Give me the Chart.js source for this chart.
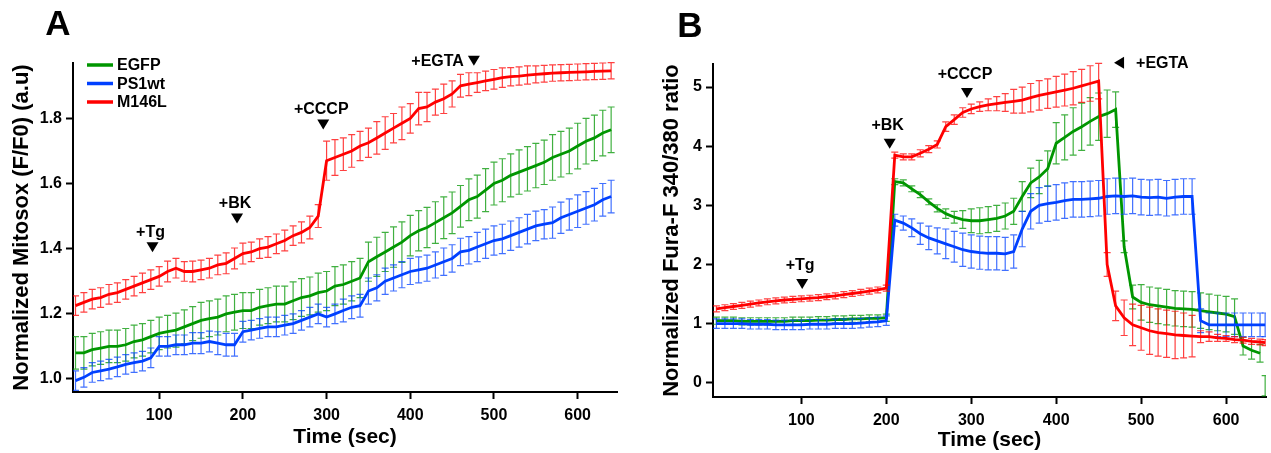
<!DOCTYPE html>
<html>
<head>
<meta charset="utf-8">
<script src="https://cdn.jsdelivr.net/npm/chart.js@4.4.1/dist/chart.umd.min.js"></script>
<style>
  body { margin: 0; background: #fff; }
  #wrap { position: relative; width: 1271px; height: 453px; }
  .panel { position: absolute; top: 0; height: 453px; }
  #panelA { left: 0; width: 640px; }
  #panelB { left: 640px; width: 631px; }
</style>
</head>
<body>
<div id="wrap">
  <div class="panel" id="panelA"><canvas id="chartA" width="640" height="453"></canvas></div>
  <div class="panel" id="panelB"><canvas id="chartB" width="631" height="453"></canvas></div>
</div>
<script>
// ---- data (time in sec) ----
const seriesNames = ['EGFP', 'PS1wt', 'M146L'];

const timeA = [0,10,20,30,40,50,60,70,80,90,100,110,120,130,140,150,160,170,180,190,
  200,210,220,230,240,250,260,270,280,290,300,310,320,330,340,350,360,370,380,390,
  400,410,420,430,440,450,460,470,480,490,500,510,520,530,540,550,560,570,580,590,
  600,610,620,630,640];

// panel A: Mitosox F/F0
const mitoGreen = [1.08,1.08,1.09,1.095,1.10,1.10,1.105,1.115,1.12,1.13,
  1.14,1.145,1.15,1.16,1.17,1.18,1.185,1.19,1.20,1.205,
  1.21,1.21,1.22,1.225,1.23,1.23,1.24,1.25,1.255,1.265,
  1.27,1.285,1.29,1.30,1.31,1.36,1.375,1.39,1.405,1.42,
  1.44,1.455,1.465,1.48,1.495,1.51,1.53,1.55,1.56,1.58,
  1.60,1.61,1.625,1.635,1.645,1.655,1.665,1.68,1.69,1.70,
  1.715,1.73,1.74,1.755,1.765];
const mitoGreenErr = [0.05,0.05,0.05,0.05,0.05,0.05,0.05,0.05,0.05,0.05,
  0.05,0.05,0.052,0.052,0.052,0.055,0.055,0.055,0.055,0.055,
  0.055,0.055,0.055,0.055,0.055,0.055,0.058,0.058,0.058,0.06,
  0.06,0.06,0.06,0.06,0.06,0.06,0.06,0.06,0.062,0.062,
  0.062,0.062,0.062,0.064,0.064,0.064,0.064,0.064,0.066,0.066,
  0.066,0.066,0.066,0.068,0.068,0.068,0.068,0.07,0.07,0.07,
  0.07,0.07,0.07,0.07,0.07];
const mitoBlue = [0.995,1.005,1.02,1.025,1.03,1.037,1.045,1.05,1.055,1.065,
  1.10,1.10,1.105,1.105,1.11,1.11,1.115,1.11,1.105,1.105,
  1.145,1.15,1.155,1.16,1.16,1.165,1.17,1.18,1.19,1.20,
  1.19,1.20,1.21,1.22,1.225,1.27,1.28,1.30,1.31,1.32,
  1.33,1.335,1.34,1.35,1.36,1.37,1.39,1.395,1.405,1.415,
  1.425,1.43,1.44,1.45,1.46,1.47,1.475,1.48,1.495,1.505,
  1.515,1.525,1.535,1.55,1.56];
const mitoBlueErr = [0.03,0.03,0.03,0.03,0.03,0.03,0.03,0.03,0.03,0.03,
  0.03,0.03,0.03,0.03,0.032,0.032,0.032,0.035,0.035,0.035,
  0.032,0.03,0.03,0.03,0.03,0.03,0.03,0.03,0.03,0.03,
  0.03,0.03,0.035,0.035,0.035,0.04,0.04,0.04,0.04,0.04,
  0.04,0.04,0.04,0.04,0.042,0.042,0.042,0.042,0.045,0.045,
  0.045,0.045,0.045,0.045,0.045,0.045,0.045,0.048,0.048,0.048,
  0.05,0.05,0.05,0.05,0.05];
const mitoRed = [1.225,1.235,1.245,1.25,1.26,1.265,1.275,1.285,1.295,1.305,
  1.315,1.33,1.34,1.33,1.33,1.335,1.34,1.35,1.355,1.37,
  1.385,1.39,1.40,1.405,1.415,1.425,1.44,1.45,1.465,1.50,
  1.67,1.68,1.69,1.70,1.715,1.725,1.74,1.755,1.77,1.785,
  1.80,1.83,1.835,1.85,1.86,1.875,1.90,1.905,1.91,1.915,
  1.92,1.925,1.928,1.93,1.933,1.935,1.937,1.939,1.94,1.941,
  1.942,1.943,1.944,1.945,1.946];
const mitoRedErr = [0.03,0.03,0.03,0.03,0.03,0.03,0.03,0.03,0.03,0.03,
  0.03,0.032,0.03,0.03,0.032,0.03,0.03,0.03,0.032,0.032,
  0.032,0.03,0.03,0.032,0.03,0.032,0.03,0.032,0.035,0.035,
  0.06,0.055,0.05,0.05,0.045,0.045,0.05,0.05,0.045,0.05,
  0.045,0.05,0.045,0.04,0.045,0.04,0.035,0.035,0.03,0.03,
  0.03,0.03,0.028,0.028,0.028,0.026,0.026,0.025,0.025,0.025,
  0.025,0.025,0.025,0.025,0.025];

// panel B: Fura-F 340/380 ratio
const timeB = [0,10,20,30,40,50,60,70,80,90,100,110,120,130,140,150,160,170,180,190,
  200,210,220,230,240,250,260,270,280,290,300,310,320,330,340,350,360,370,380,390,
  400,410,420,430,440,450,460,470,480,490,500,510,520,530,540,550,560,570,580,590,
  600,610,620,630,640,646];

const furaGreen = [1.05,1.05,1.05,1.04,1.04,1.04,1.04,1.04,1.04,1.05,
  1.05,1.05,1.06,1.06,1.07,1.07,1.08,1.08,1.09,1.09,
  1.10,3.40,3.38,3.28,3.18,3.06,2.95,2.86,2.80,2.76,
  2.74,2.74,2.76,2.78,2.82,2.90,3.15,3.38,3.48,3.62,
  4.05,4.15,4.25,4.33,4.42,4.50,4.55,4.62,2.30,1.45,
  1.36,1.32,1.30,1.28,1.26,1.25,1.24,1.22,1.20,1.18,
  1.16,1.12,0.62,0.55,0.50,-0.05];
const furaGreenErr = [0.06,0.06,0.06,0.06,0.06,0.06,0.06,0.06,0.06,0.06,
  0.06,0.06,0.06,0.06,0.06,0.06,0.06,0.06,0.06,0.06,
  0.06,0.05,0.05,0.05,0.05,0.05,0.06,0.08,0.1,0.15,
  0.2,0.22,0.22,0.22,0.22,0.22,0.25,0.25,0.28,0.3,
  0.35,0.38,0.4,0.4,0.4,0.4,0.4,0.3,0.1,0.2,
  0.3,0.3,0.3,0.3,0.3,0.3,0.3,0.3,0.3,0.3,
  0.3,0.3,0.15,0.15,0.15,0.17];
const furaBlue = [1.00,1.00,1.00,1.00,0.99,0.99,0.99,0.98,0.98,0.98,
  0.98,0.99,0.99,0.99,1.00,1.00,1.00,1.01,1.02,1.03,
  1.05,2.75,2.70,2.62,2.52,2.45,2.40,2.35,2.30,2.25,
  2.22,2.20,2.19,2.19,2.18,2.22,2.60,2.90,3.00,3.03,
  3.05,3.08,3.10,3.10,3.11,3.12,3.15,3.16,3.15,3.16,
  3.14,3.13,3.14,3.12,3.14,3.15,3.15,1.05,0.98,0.98,
  0.98,0.98,0.98,0.98,0.98,0.98];
const furaBlueErr = [0.08,0.08,0.08,0.08,0.08,0.08,0.08,0.08,0.08,0.08,
  0.08,0.08,0.08,0.08,0.08,0.08,0.08,0.08,0.08,0.08,
  0.08,0.1,0.12,0.15,0.18,0.2,0.22,0.25,0.26,0.28,
  0.28,0.28,0.28,0.28,0.28,0.28,0.3,0.3,0.3,0.3,
  0.3,0.3,0.3,0.3,0.3,0.3,0.3,0.3,0.3,0.3,
  0.3,0.3,0.3,0.3,0.3,0.3,0.3,0.2,0.2,0.2,
  0.2,0.2,0.2,0.2,0.2,0.2];
const furaRed = [1.25,1.27,1.29,1.31,1.33,1.35,1.37,1.385,1.40,1.41,
  1.42,1.43,1.44,1.455,1.47,1.49,1.51,1.53,1.55,1.57,
  1.60,3.85,3.82,3.82,3.88,3.95,4.03,4.33,4.45,4.57,
  4.63,4.67,4.70,4.72,4.74,4.76,4.78,4.82,4.86,4.89,
  4.92,4.95,4.98,5.02,5.06,5.10,2.0,1.30,1.10,0.98,
  0.93,0.88,0.85,0.83,0.81,0.80,0.79,0.78,0.78,0.76,
  0.75,0.73,0.72,0.70,0.69,0.68];
const furaRedErr = [0.05,0.05,0.05,0.05,0.05,0.05,0.05,0.05,0.05,0.05,
  0.05,0.05,0.05,0.05,0.05,0.05,0.05,0.05,0.05,0.05,
  0.05,0.05,0.05,0.05,0.06,0.06,0.06,0.08,0.08,0.08,
  0.08,0.08,0.1,0.12,0.15,0.2,0.22,0.24,0.25,0.25,
  0.26,0.27,0.28,0.28,0.3,0.3,0.2,0.25,0.3,0.35,
  0.38,0.4,0.4,0.4,0.4,0.38,0.35,0.1,0.08,0.06,
  0.05,0.05,0.05,0.05,0.05,0.05];

// axis ticks
const xTicks = [100, 200, 300, 400, 500, 600];
const yTicksA = [1.0, 1.2, 1.4, 1.6, 1.8];
const yTicksB = [0, 1, 2, 3, 4, 5];

// treatment marks
const marksA = ['+Tg', '+BK', '+CCCP', '+EGTA'];
const marksATime = [92, 193, 296, 476];
const marksALevel = [1.404, 1.493, 1.781, 1.977];
const marksB = ['+Tg', '+BK', '+CCCP', '+EGTA'];
const marksBTime = [101, 204, 295, 474];
const marksBLevel = [1.67, 4.04, 4.90, 5.41];

const FONT = '"Liberation Sans", Arial, Helvetica, sans-serif';
const lineColors = ['rgb(0,150,0)', 'rgb(0,64,255)', 'rgb(255,0,0)'];
const barColors = ['rgba(0,150,0,0.75)', 'rgba(0,64,255,0.75)', 'rgba(255,0,0,0.75)'];

function points(times, values) {
  return times.map(function(t, i) { return { x: t, y: values[i] }; });
}

// draws the error bars of a dataset just before its line
const errorBars = {
  id: 'errorBars',
  beforeDatasetDraw(chart, args) {
    const ds = chart.data.datasets[args.index];
    const ys = chart.scales.y;
    const area = chart.chartArea;
    const ctx = chart.ctx;
    ctx.save();
    ctx.beginPath();
    ctx.rect(area.left, area.top - 2, area.right - area.left, area.bottom - area.top + 2);
    ctx.clip();
    ctx.strokeStyle = ds.barColor;
    ctx.lineWidth = 1.2;
    args.meta.data.forEach(function(pt, i) {
      const v = ds.data[i].y, e = ds.errors[i];
      const top = ys.getPixelForValue(v + e);
      const bot = ys.getPixelForValue(v - e);
      ctx.beginPath();
      ctx.moveTo(pt.x, top); ctx.lineTo(pt.x, bot);
      ctx.moveTo(pt.x - 3.5, top); ctx.lineTo(pt.x + 3.5, top);
      ctx.moveTo(pt.x - 3.5, bot); ctx.lineTo(pt.x + 3.5, bot);
      ctx.stroke();
    });
    ctx.restore();
  }
};

// panel letter, legend and treatment arrows
const extras = {
  id: 'extras',
  afterDraw(chart, args, opts) {
    const ctx = chart.ctx, xs = chart.scales.x, ys = chart.scales.y;
    const area = chart.chartArea;
    ctx.save();
    ctx.fillStyle = '#000';
    ctx.font = 'bold 35px ' + FONT;
    ctx.textAlign = 'center';
    ctx.textBaseline = 'middle';
    ctx.fillText(opts.letter, opts.letterAt[0], opts.letterAt[1]);

    ctx.font = 'bold 16px ' + FONT;
    opts.labels.forEach(function(label, i) {
      const px = xs.getPixelForValue(opts.times[i]);
      const py = ys.getPixelForValue(opts.levels[i]);
      const side = opts.sides[i];
      ctx.beginPath();
      if (side === 'right') {
        ctx.moveTo(px - 5, py); ctx.lineTo(px + 5, py - 6); ctx.lineTo(px + 5, py + 6);
        ctx.fill();
        ctx.textAlign = 'left';
        ctx.fillText(label, px + 17, py + 1);
      } else {
        ctx.moveTo(px - 6, py - 5); ctx.lineTo(px + 6, py - 5); ctx.lineTo(px, py + 5);
        ctx.fill();
        if (side === 'left') {
          ctx.textAlign = 'right';
          ctx.fillText(label, px - 10, py + 1);
        } else {
          ctx.textAlign = 'center';
          ctx.fillText(label, px - 2, py - opts.gap);
        }
      }
    });

    if (opts.legend) {
      ctx.textAlign = 'left';
      chart.data.datasets.forEach(function(ds, i) {
        const y = area.top + 2 + i * 18.5;
        ctx.strokeStyle = ds.borderColor;
        ctx.lineWidth = 3.5;
        ctx.beginPath();
        ctx.moveTo(area.left + 14, y); ctx.lineTo(area.left + 40, y);
        ctx.stroke();
        ctx.fillStyle = '#000';
        ctx.fillText(ds.label, area.left + 44, y + 1);
      });
    }
    ctx.restore();
  }
};

function makeDatasets(times, values, errors, gapAtEnd) {
  return seriesNames.map(function(name, i) {
    return {
      label: name,
      data: points(times, values[i]),
      errors: errors[i],
      borderColor: lineColors[i],
      barColor: barColors[i],
      borderWidth: 2.8,
      pointRadius: 0,
      tension: 0,
      order: 2 - i,
      segment: gapAtEnd[i] ? {
        borderColor: function(c) { return c.p1DataIndex === times.length - 1 ? 'rgba(0,0,0,0)' : undefined; }
      } : undefined
    };
  });
}

function axisX(min, max, height, titlePad) {
  return {
    type: 'linear', min: min, max: max,
    afterFit: function(s) { s.height = height; },
    afterBuildTicks: function(s) { s.ticks = xTicks.map(function(v) { return { value: v }; }); },
    grid: { drawOnChartArea: false, drawTicks: true, tickLength: 7, tickWidth: 2, tickColor: '#000' },
    border: { color: '#000', width: 2 },
    ticks: { color: '#000', padding: 7, font: { family: FONT, size: 16, weight: 'bold' } },
    title: { display: true, text: 'Time (sec)', color: '#000', padding: { top: 0, bottom: titlePad },
      font: { family: FONT, size: 21, weight: 'bold' } }
  };
}

function axisY(min, max, ticks, decimals, title, titlePad) {
  return {
    type: 'linear', min: min, max: max,
    afterFit: function(s) { s.width = 73; },
    afterBuildTicks: function(s) { s.ticks = ticks.map(function(v) { return { value: v }; }); },
    grid: { drawOnChartArea: false, drawTicks: true, tickLength: 7, tickWidth: 2, tickColor: '#000' },
    border: { color: '#000', width: 2 },
    ticks: { color: '#000', padding: 4, font: { family: FONT, size: 16, weight: 'bold' },
      callback: function(v) { return Number(v).toFixed(decimals); } },
    title: { display: true, text: title, color: '#000', padding: { top: titlePad, bottom: 0 },
      font: { family: FONT, size: 22, weight: 'bold' } }
  };
}

document.addEventListener('DOMContentLoaded', function() {
  new Chart(document.getElementById('chartA'), {
    type: 'line',
    data: { datasets: makeDatasets(timeA, [mitoGreen, mitoBlue, mitoRed],
      [mitoGreenErr, mitoBlueErr, mitoRedErr], [false, false, false]) },
    options: {
      responsive: false,
      animation: false,
      layout: { padding: { top: 63, right: 23, left: 0, bottom: 0 } },
      scales: {
        x: axisX(-3, 647, 61, 3),
        y: axisY(0.96, 1.97, yTicksA, 1, 'Normalized Mitosox (F/F0) (a.u)', 9)
      },
      plugins: {
        legend: { display: false },
        tooltip: { enabled: false },
        extras: { letter: 'A', letterAt: [58, 25], legend: true, gap: 15,
          labels: marksA, times: marksATime, levels: marksALevel,
          sides: ['above', 'above', 'above', 'left'] }
      }
    },
    plugins: [errorBars, extras]
  });

  new Chart(document.getElementById('chartB'), {
    type: 'line',
    data: { datasets: makeDatasets(timeB, [furaGreen, furaBlue, furaRed],
      [furaGreenErr, furaBlueErr, furaRedErr], [true, false, false]) },
    options: {
      responsive: false,
      animation: false,
      layout: { padding: { top: 64, right: 5, left: 0, bottom: 0 } },
      scales: {
        x: axisX(-4, 647, 56, 0),
        y: axisY(-0.24, 5.39, yTicksB, 0, 'Normalized Fura-F 340/380 ratio', 19)
      },
      plugins: {
        legend: { display: false },
        tooltip: { enabled: false },
        extras: { letter: 'B', letterAt: [50, 27], legend: false, gap: 18,
          labels: marksB, times: marksBTime, levels: marksBLevel,
          sides: ['above', 'above', 'above', 'right'] }
      }
    },
    plugins: [errorBars, extras]
  });
});
</script>
</body>
</html>
